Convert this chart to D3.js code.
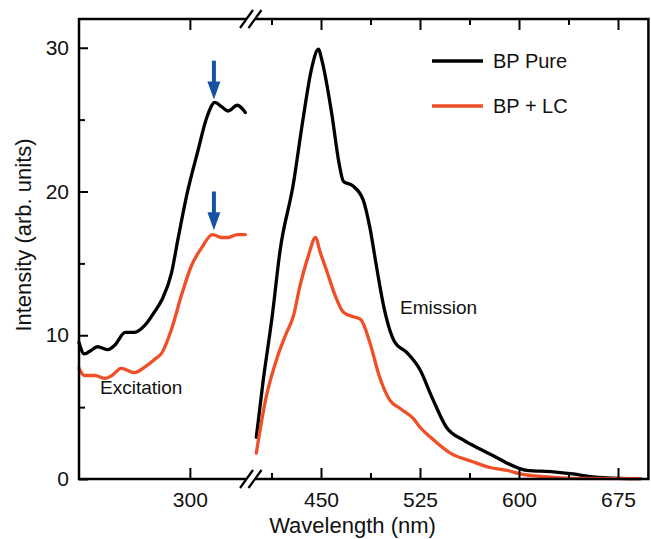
<!DOCTYPE html>
<html>
<head>
<meta charset="utf-8">
<script src="https://cdn.jsdelivr.net/npm/d3@7"></script>
<style>
  body { margin: 0; background: #fff; }
  text { font-family: "Liberation Sans", Arial, sans-serif; fill: #111; }
</style>
</head>
<body>
<svg id="chart"></svg>
<script>
// excitation spectra (left part of the broken axis)
let exPureNm = [216, 220, 226, 230, 238, 243, 251, 258, 266, 273, 279, 286, 291, 298, 306, 313, 319, 324, 329, 336, 342];
let exPure   = [9.5, 8.7, 9.0, 9.2, 9.0, 9.3, 10.2, 10.2, 10.7, 11.6, 12.5, 14.3, 16.7, 19.9, 22.8, 25.2, 26.2, 25.9, 25.6, 26.0, 25.5];
let exLCNm   = [216, 220, 228, 236, 241, 248, 258, 266, 273, 279, 286, 294, 301, 309, 317, 324, 329, 336, 342];
let exLC     = [7.7, 7.2, 7.2, 7.0, 7.2, 7.7, 7.4, 7.8, 8.3, 8.8, 10.4, 12.9, 14.8, 16.1, 17.0, 16.8, 16.8, 17.0, 17.0];

// emission spectra (right part)
let emPureNm = [401, 406, 413, 419, 429, 436, 443, 448, 451, 458, 464, 467, 474, 482, 487, 492, 498, 506, 515, 525, 534, 545, 558, 570, 583, 591, 606, 626, 641, 656, 676, 692];
let emPure   = [2.9, 6.7, 11.3, 15.9, 20.5, 24.8, 28.6, 29.9, 29.0, 25.5, 21.8, 20.7, 20.4, 19.4, 17.5, 14.8, 11.8, 9.5, 8.8, 7.6, 5.7, 3.6, 2.7, 2.1, 1.5, 1.1, 0.6, 0.5, 0.35, 0.15, 0.05, 0.03];
let emLCNm   = [401, 408, 417, 424, 429, 434, 440, 446, 449, 455, 461, 467, 474, 480, 487, 494, 502, 510, 520, 525, 533, 548, 565, 578, 591, 601, 621, 641, 692];
let emLC     = [1.8, 5.5, 8.5, 10.2, 11.3, 13.4, 15.4, 16.8, 15.9, 14.3, 12.7, 11.6, 11.3, 11.1, 9.5, 7.2, 5.5, 4.9, 4.2, 3.6, 2.9, 1.8, 1.2, 0.8, 0.6, 0.35, 0.15, 0.05, 0.02];

// blue arrows marking the excitation peaks
let arrowNm   = [318.2, 318.2];
let arrowFrom = [29.1, 20.0];
let arrowTo   = [26.4, 17.3];

let seriesNames  = ['BP Pure', 'BP + LC'];
let seriesColors = ['#000000', '#f04e26'];

let yTicks = [0, 10, 20, 30];
let yMinor = [5, 15, 25];
let xLeftTicks = [300];
let xRightTicks = [450, 525, 600, 675];
let xRightMinor = [412.5, 487.5, 562.5, 637.5];

let width = 651, height = 539;
let plot = {left: 79, top: 19, right: 648.4, bottom: 479};
let pxPerNm = 1.32;

let svg = d3.select('#chart').attr('width', width).attr('height', height);

// scales
let xLeft = d3.scaleLinear().domain([216, 343]).range([plot.left, plot.left + 127 * pxPerNm]);
let xRight = d3.scaleLinear().domain([400, 698]).range([255, 255 + 298 * pxPerNm]);
let y = d3.scaleLinear().domain([0, 32]).range([plot.bottom, plot.top]);

let zip = (xs, ys) => xs.map((x, i) => [x, ys[i]]);

function drawLine(scaleX, pts, color) {
    let line = d3.line().x(d => scaleX(d[0])).y(d => y(d[1])).curve(d3.curveMonotoneX);
    svg.append('path').datum(pts)
        .attr('fill', 'none')
        .attr('stroke', color)
        .attr('stroke-width', 3.3)
        .attr('stroke-linejoin', 'round')
        .attr('stroke-linecap', 'round')
        .attr('d', line);
}

drawLine(xLeft, zip(exPureNm, exPure), seriesColors[0]);
drawLine(xLeft, zip(exLCNm, exLC), seriesColors[1]);
drawLine(xRight, zip(emPureNm, emPure), seriesColors[0]);
drawLine(xRight, zip(emLCNm, emLC), seriesColors[1]);

// frame
let axisW = 2.5;
svg.append('rect')
    .attr('x', plot.left).attr('y', plot.top)
    .attr('width', plot.right - plot.left).attr('height', plot.bottom - plot.top)
    .attr('fill', 'none').attr('stroke', '#000').attr('stroke-width', axisW);

function styleAxis(g, size) {
    g.select('.domain').remove();
    g.selectAll('line').attr('stroke', '#000').attr('stroke-width', 2);
    g.selectAll('text').style('font-size', size).style('fill', '#111')
        .style('font-family', '"Liberation Sans", Arial, sans-serif');
}

// y axis
svg.append('g').attr('transform', 'translate(' + plot.left + ',0)')
    .call(d3.axisLeft(y).tickValues(yTicks).tickSize(-9).tickPadding(10))
    .call(g => styleAxis(g, '21px'));
svg.append('g').attr('transform', 'translate(' + plot.left + ',0)')
    .call(d3.axisLeft(y).tickValues(yMinor).tickSize(-6).tickFormat(''))
    .call(g => styleAxis(g, '21px'));

// x axes, bottom and top
[[xLeft, xLeftTicks], [xRight, xRightTicks]].forEach(([sc, tv]) => {
    svg.append('g').attr('transform', 'translate(0,' + plot.bottom + ')')
        .call(d3.axisBottom(sc).tickValues(tv).tickSize(-11).tickPadding(13))
        .call(g => styleAxis(g, '21px'));
    svg.append('g').attr('transform', 'translate(0,' + plot.top + ')')
        .call(d3.axisTop(sc).tickValues(tv).tickSize(-11).tickFormat(''))
        .call(g => styleAxis(g, '21px'));
});
svg.append('g').attr('transform', 'translate(0,' + plot.bottom + ')')
    .call(d3.axisBottom(xRight).tickValues(xRightMinor).tickSize(-6).tickFormat(''))
    .call(g => styleAxis(g, '21px'));
svg.append('g').attr('transform', 'translate(0,' + plot.top + ')')
    .call(d3.axisTop(xRight).tickValues(xRightMinor).tickSize(-6).tickFormat(''))
    .call(g => styleAxis(g, '21px'));

// axis breaks
[plot.top, plot.bottom].forEach(yy => {
    svg.append('polygon')
        .attr('points', [[246.5 - 6.5, yy + 5], [246.5 + 6.5, yy - 5], [255 + 6.5, yy - 5], [255 - 6.5, yy + 5]].join(' '))
        .attr('fill', '#fff');
    [246.5, 255].forEach(cx => {
        svg.append('line')
            .attr('x1', cx - 6.5).attr('y1', yy + 9)
            .attr('x2', cx + 6.5).attr('y2', yy - 9)
            .attr('stroke', '#000').attr('stroke-width', 2.2);
    });
});

// arrows
arrowNm.forEach((nm, i) => {
    let ax = xLeft(nm), y0 = y(arrowFrom[i]), y1 = y(arrowTo[i]);
    let headLen = 18;
    svg.append('line')
        .attr('x1', ax).attr('y1', y0).attr('x2', ax).attr('y2', y1 - headLen + 2)
        .attr('stroke', '#1552a4').attr('stroke-width', 4);
    svg.append('polygon')
        .attr('points', [[ax - 6.5, y1 - headLen], [ax + 6.5, y1 - headLen], [ax, y1]].join(' '))
        .attr('fill', '#1552a4');
});

// legend
seriesNames.forEach((name, i) => {
    let ly = 61 + i * 45;
    svg.append('line')
        .attr('x1', 432).attr('x2', 483).attr('y1', ly).attr('y2', ly)
        .attr('stroke', seriesColors[i]).attr('stroke-width', 3.5);
    svg.append('text')
        .attr('x', 493).attr('y', ly + 7)
        .style('font-size', '20px')
        .text(name);
});

// annotations
svg.append('text').attr('x', 100).attr('y', 394).style('font-size', '19px').text('Excitation');
svg.append('text').attr('x', 400).attr('y', 314).style('font-size', '19px').text('Emission');

// axis titles
svg.append('text')
    .attr('x', 352.5).attr('y', 533)
    .style('font-size', '22px').style('text-anchor', 'middle')
    .text('Wavelength (nm)');
svg.append('text')
    .attr('transform', 'translate(31,235) rotate(-90)')
    .style('font-size', '22px').style('text-anchor', 'middle')
    .text('Intensity (arb. units)');
</script>
</body>
</html>
